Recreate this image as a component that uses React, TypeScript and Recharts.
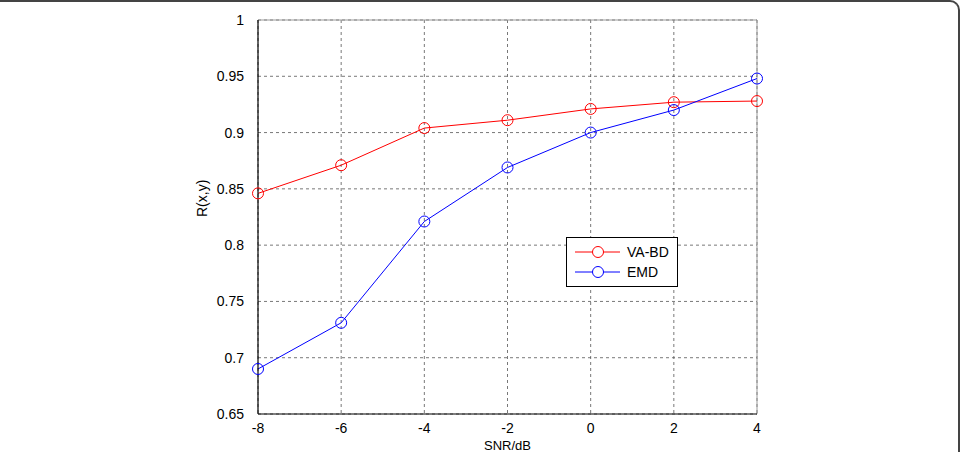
import React from "react";
import {
  LineChart,
  Line,
  XAxis,
  YAxis,
  CartesianGrid,
  ReferenceLine,
} from "recharts";

const snr = [-8, -6, -4, -2, 0, 2, 4];
const vaBd = [0.846, 0.871, 0.904, 0.911, 0.921, 0.927, 0.928];
const emd = [0.69, 0.731, 0.821, 0.869, 0.9, 0.92, 0.948];
const xTicks = [-8, -6, -4, -2, 0, 2, 4];
const yTicks = [0.65, 0.7, 0.75, 0.8, 0.85, 0.9, 0.95, 1];

const data = snr.map((s, i) => ({ snr: s, vabd: vaBd[i], emd: emd[i] }));

const font = "'Liberation Sans', Arial, sans-serif";

const HollowDot = (props: any) => {
  const { cx, cy, stroke } = props;
  if (cx == null || cy == null) return null;
  return <circle cx={cx} cy={cy} r={5.5} fill="none" stroke={stroke} strokeWidth={1} />;
};

// legend drawn as an overlay box, like the matlab one
const LegendBox = () => {
  const items = [
    { name: "VA-BD", color: "#ff0000" },
    { name: "EMD", color: "#0000ff" },
  ];
  return (
    <div
      style={{
        position: "absolute",
        left: 566,
        top: 237,
        width: 112,
        height: 50,
        border: "1px solid #000",
        background: "#fff",
        fontFamily: font,
        fontSize: 14,
        boxSizing: "border-box",
        paddingTop: 4,
      }}
    >
      {items.map((it) => (
        <div key={it.name} style={{ display: "flex", alignItems: "center", height: 20 }}>
          <svg width={56} height={20}>
            <line x1={8} y1={10} x2={53} y2={10} stroke={it.color} strokeWidth={1} />
            <circle cx={31} cy={10} r={5.5} fill="#fff" stroke={it.color} strokeWidth={1} />
          </svg>
          <span style={{ color: "#000", marginLeft: 4 }}>{it.name}</span>
        </div>
      ))}
    </div>
  );
};

export default function App() {
  return (
    <div style={{ position: "absolute", left: 0, top: 0, width: 961, height: 452, background: "#fff", overflow: "hidden" }}>
      <div
        style={{
          position: "absolute",
          left: 0,
          top: 0,
          width: 960,
          height: 452,
          borderTop: "2px solid #444",
          borderRight: "2px solid #444",
          borderTopRightRadius: 10,
          boxSizing: "border-box",
        }}
      />
      <LineChart
        width={961}
        height={452}
        data={data}
        margin={{ top: 20, right: 204, bottom: 8, left: 208 }}
        style={{ fontFamily: font }}
      >
        <CartesianGrid stroke="#555" strokeDasharray="3 3" strokeWidth={0.8} />
        <XAxis
          dataKey="snr"
          type="number"
          domain={[-8, 4]}
          ticks={xTicks}
          height={30}
          tickLine={false}
          axisLine={{ stroke: "#000", strokeWidth: 1.2 }}
          tick={{ fill: "#000", fontSize: 14 }}
          tickMargin={3}
          label={{ value: "SNR/dB", position: "insideBottom", offset: -6, fill: "#000", fontSize: 13 }}
        />
        <YAxis
          type="number"
          domain={[0.65, 1]}
          ticks={yTicks}
          width={50}
          tickLine={false}
          axisLine={{ stroke: "#000", strokeWidth: 1.2 }}
          tick={{ fill: "#000", fontSize: 14 }}
          tickMargin={8}
          label={{ value: "R(x,y)", angle: -90, position: "insideLeft", offset: -6, fill: "#000", fontSize: 14 }}
        />
        <ReferenceLine y={1} stroke="#999" strokeWidth={1} />
        <ReferenceLine x={4} stroke="#999" strokeWidth={1} />
        <Line
          dataKey="vabd"
          name="VA-BD"
          stroke="#ff0000"
          strokeWidth={1}
          dot={<HollowDot />}
          activeDot={false}
          isAnimationActive={false}
        />
        <Line
          dataKey="emd"
          name="EMD"
          stroke="#0000ff"
          strokeWidth={1}
          dot={<HollowDot />}
          activeDot={false}
          isAnimationActive={false}
        />
      </LineChart>
      <LegendBox />
    </div>
  );
}
